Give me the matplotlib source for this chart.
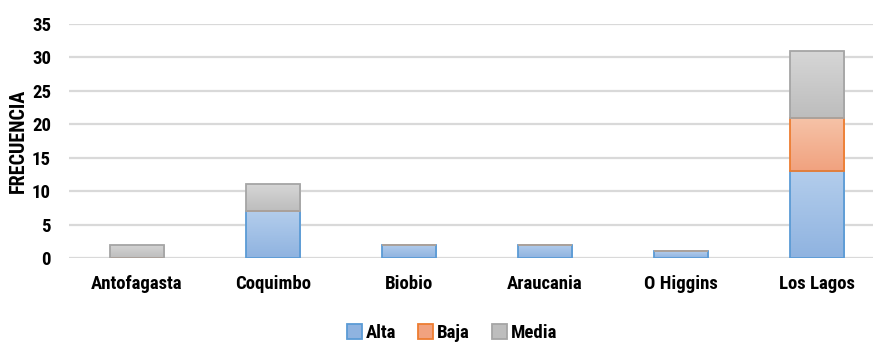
import numpy as np
import matplotlib.pyplot as plt
from matplotlib.colors import LinearSegmentedColormap

regiones = ["Antofagasta", "Coquimbo", "Biobio", "Araucania", "O Higgins", "Los Lagos"]
alta = [0, 7, 2, 2, 1, 13]
baja = [0, 0, 0, 0, 0, 8]
media = [2, 4, 0, 0, 0, 10]
yticks = [0, 5, 10, 15, 20, 25, 30, 35]

plt.rcParams['font.family'] = ['Roboto Condensed', 'Archivo Narrow', 'Barlow Condensed', 'DejaVu Sans']

# (top colour, bottom colour, edge)
estilos = {
    "Alta": ("#b3cdec", "#8fb3e0", "#5b9bd5"),
    "Baja": ("#f6c3a8", "#f1a27f", "#ed7d31"),
    "Media": ("#d6d6d6", "#bdbdbd", "#a5a5a5"),
}

fig = plt.figure(figsize=(8.73, 3.43), dpi=100)
ax = fig.add_axes([69 / 873, 1 - 258 / 343, 816 / 873, 234 / 343])

x = np.arange(len(regiones))
ancho = 0.40
base = np.zeros(len(regiones))
for nombre, vals in [("Alta", alta), ("Baja", baja), ("Media", media)]:
    top, bot, edge = estilos[nombre]
    cmap = LinearSegmentedColormap.from_list(nombre, [bot, top])
    bars = ax.bar(x, vals, ancho, bottom=base, color=top, edgecolor=edge,
                  linewidth=1.3, label=nombre, zorder=3)
    for b, v in zip(bars, vals):
        if v <= 0:
            continue
        b.set_facecolor("none")
        x0, y0 = b.get_x(), b.get_y()
        grad = np.linspace(0, 1, 100).reshape(-1, 1)
        im = ax.imshow(grad, cmap=cmap, origin="lower", aspect="auto",
                       extent=(x0, x0 + b.get_width(), y0, y0 + b.get_height()),
                       zorder=2)
        im.set_clip_path(b)
    base += np.array(vals)

ax.set_xlim(-0.5, 5.5)
ax.set_ylim(0, 35)
ax.set_yticks(yticks)
ax.set_yticklabels([str(t) for t in yticks], fontsize=13.5, fontweight="bold")
ax.set_xticks(x)
ax.set_xticklabels(regiones, fontsize=13.5, fontweight="bold")
ax.tick_params(length=0)
ax.tick_params(axis="y", pad=13)
ax.tick_params(axis="x", pad=12)
ax.grid(axis="y", color="#d9d9d9", linewidth=1.6, zorder=0)
for s in ax.spines.values():
    s.set_visible(False)
ax.set_ylabel("FRECUENCIA", fontsize=14.5, fontweight="bold", labelpad=3)

leg = fig.legend(loc="center", bbox_to_anchor=(452 / 873, 1 - 333 / 343), ncol=3,
                 frameon=False, prop={"weight": "bold", "size": 13.5},
                 handlelength=0.8, handleheight=0.8, handletextpad=0.2,
                 columnspacing=1.2)
for h, nombre in zip(leg.legend_handles, ["Alta", "Baja", "Media"]):
    h.set_facecolor(estilos[nombre][1])

fig.savefig("out.png", dpi=100)
